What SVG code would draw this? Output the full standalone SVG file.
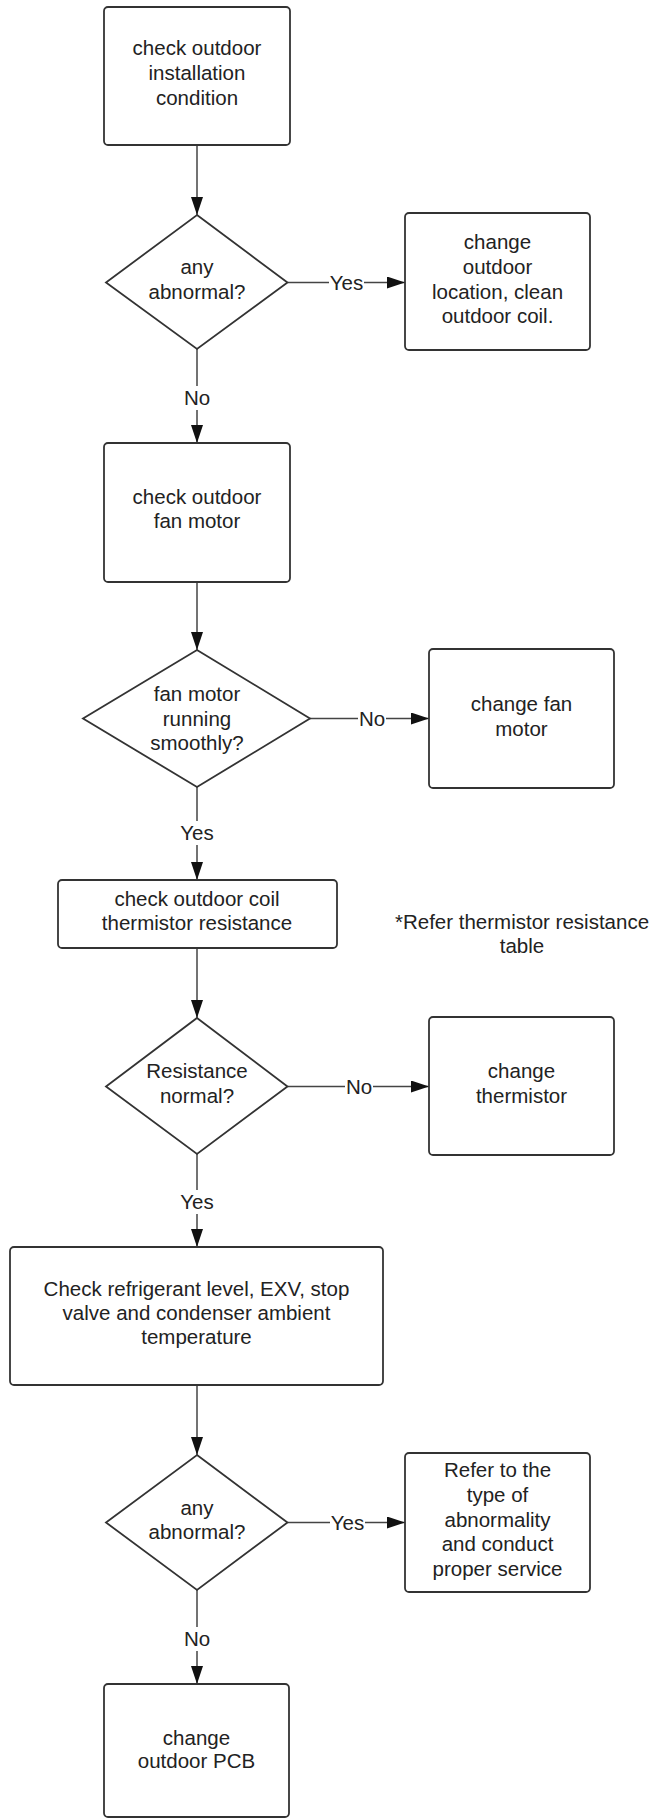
<svg xmlns="http://www.w3.org/2000/svg" width="651" height="1819" viewBox="0 0 651 1819">
<style>
.box{fill:#fff;stroke:#333;stroke-width:1.8}
.t{font-family:"Liberation Sans",Arial,sans-serif;font-size:20.5px;fill:#222;text-anchor:middle}
.c{stroke:#444;stroke-width:1.5;fill:none}
.bg{fill:#fff}
</style>
<defs>
<marker id="ah" markerUnits="userSpaceOnUse" markerWidth="18" markerHeight="12" refX="18" refY="6" orient="auto">
<path d="M0,0 L18,6 L0,12 z" fill="#111"/>
</marker>
</defs>
<rect width="651" height="1819" fill="#fff"/>
<g id="connectors">
<line class="c" x1="197" y1="145" x2="197" y2="215" marker-end="url(#ah)"/>
<line class="c" x1="287.5" y1="282.5" x2="405" y2="282.5" marker-end="url(#ah)"/>
<line class="c" x1="197" y1="349" x2="197" y2="443" marker-end="url(#ah)"/>
<line class="c" x1="197" y1="582" x2="197" y2="650" marker-end="url(#ah)"/>
<line class="c" x1="310" y1="718.5" x2="429" y2="718.5" marker-end="url(#ah)"/>
<line class="c" x1="197" y1="787" x2="197" y2="880" marker-end="url(#ah)"/>
<line class="c" x1="197" y1="948" x2="197" y2="1018" marker-end="url(#ah)"/>
<line class="c" x1="287.5" y1="1086.5" x2="429" y2="1086.5" marker-end="url(#ah)"/>
<line class="c" x1="197" y1="1154" x2="197" y2="1247" marker-end="url(#ah)"/>
<line class="c" x1="197" y1="1385" x2="197" y2="1455" marker-end="url(#ah)"/>
<line class="c" x1="287.5" y1="1522.5" x2="405" y2="1522.5" marker-end="url(#ah)"/>
<line class="c" x1="197" y1="1590" x2="197" y2="1684" marker-end="url(#ah)"/>
<rect class="bg" x="329" y="272" width="35" height="22"/>
<text class="t" x="346.5" y="290">Yes</text>
<rect class="bg" x="184" y="386" width="26" height="24"/>
<text class="t" x="197" y="405">No</text>
<rect class="bg" x="358" y="708" width="28" height="22"/>
<text class="t" x="372" y="726">No</text>
<rect class="bg" x="180" y="821" width="34" height="24"/>
<text class="t" x="197" y="840">Yes</text>
<rect class="bg" x="345" y="1076" width="28" height="22"/>
<text class="t" x="359" y="1094">No</text>
<rect class="bg" x="180" y="1190" width="34" height="24"/>
<text class="t" x="197" y="1209">Yes</text>
<rect class="bg" x="330" y="1512" width="35" height="22"/>
<text class="t" x="347.5" y="1530">Yes</text>
<rect class="bg" x="184" y="1627" width="26" height="24"/>
<text class="t" x="197" y="1646">No</text>
</g>
<g id="n1">
<rect class="box" x="104" y="7" width="186" height="138" rx="4"/>
<text class="t" x="197" y="55">check outdoor</text>
<text class="t" x="197" y="80">installation</text>
<text class="t" x="197" y="105">condition</text>
</g>
<g id="d1">
<polygon class="box" points="197,215 287.5,282.5 197,349 106,282.5"/>
<text class="t" x="197" y="274">any</text>
<text class="t" x="197" y="299">abnormal?</text>
</g>
<g id="r1">
<rect class="box" x="405" y="213" width="185" height="137" rx="4"/>
<text class="t" x="497.5" y="249">change</text>
<text class="t" x="497.5" y="274">outdoor</text>
<text class="t" x="497.5" y="299">location, clean</text>
<text class="t" x="497.5" y="323">outdoor coil.</text>
</g>
<g id="n2">
<rect class="box" x="104" y="443" width="186" height="139" rx="4"/>
<text class="t" x="197" y="504">check outdoor</text>
<text class="t" x="197" y="528">fan motor</text>
</g>
<g id="d2">
<polygon class="box" points="197,650 310,718.5 197,787 83,718.5"/>
<text class="t" x="197" y="701">fan motor</text>
<text class="t" x="197" y="726">running</text>
<text class="t" x="197" y="750">smoothly?</text>
</g>
<g id="r2">
<rect class="box" x="429" y="649" width="185" height="139" rx="4"/>
<text class="t" x="521.5" y="711">change fan</text>
<text class="t" x="521.5" y="735.5">motor</text>
</g>
<g id="n3">
<rect class="box" x="58" y="880" width="279" height="68" rx="4"/>
<text class="t" x="197" y="906">check outdoor coil</text>
<text class="t" x="197" y="930">thermistor resistance</text>
</g>
<g id="note">
<text class="t" x="522" y="929">*Refer thermistor resistance</text>
<text class="t" x="522" y="953">table</text>
</g>
<g id="d3">
<polygon class="box" points="197,1018 287.5,1086.5 197,1154 106,1086.5"/>
<text class="t" x="197" y="1078">Resistance</text>
<text class="t" x="197" y="1103">normal?</text>
</g>
<g id="r3">
<rect class="box" x="429" y="1017" width="185" height="138" rx="4"/>
<text class="t" x="521.5" y="1078">change</text>
<text class="t" x="521.5" y="1103">thermistor</text>
</g>
<g id="n4">
<rect class="box" x="10" y="1247" width="373" height="138" rx="4"/>
<text class="t" x="196.5" y="1296">Check refrigerant level, EXV, stop</text>
<text class="t" x="196.5" y="1320">valve and condenser ambient</text>
<text class="t" x="196.5" y="1344">temperature</text>
</g>
<g id="d4">
<polygon class="box" points="197,1455 287.5,1522.5 197,1590 106,1522.5"/>
<text class="t" x="197" y="1515">any</text>
<text class="t" x="197" y="1539">abnormal?</text>
</g>
<g id="r4">
<rect class="box" x="405" y="1453" width="185" height="139" rx="4"/>
<text class="t" x="497.5" y="1477">Refer to the</text>
<text class="t" x="497.5" y="1502">type of</text>
<text class="t" x="497.5" y="1526.5">abnormality</text>
<text class="t" x="497.5" y="1551">and conduct</text>
<text class="t" x="497.5" y="1575.5">proper service</text>
</g>
<g id="n5">
<rect class="box" x="104" y="1684" width="185" height="133" rx="4"/>
<text class="t" x="196.5" y="1745">change</text>
<text class="t" x="196.5" y="1768">outdoor PCB</text>
</g>
</svg>
